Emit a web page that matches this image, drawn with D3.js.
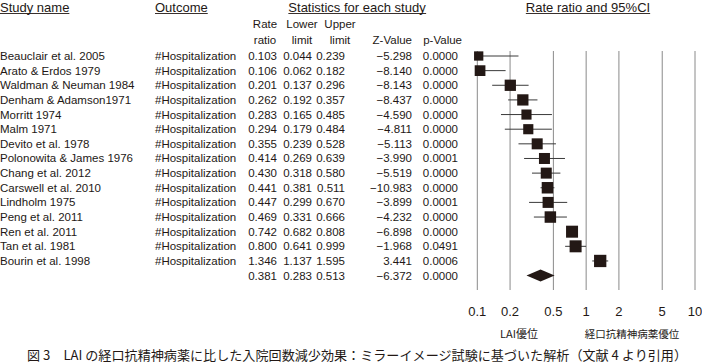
<!DOCTYPE html>
<html>
<head>
<meta charset="utf-8">
<script src="https://cdn.jsdelivr.net/npm/d3@7"></script>
<style>
  html, body { margin: 0; padding: 0; background: #fff; }
  svg { display: block; }
  text { font-family: "Liberation Sans", Arial, sans-serif; fill: #231815; }
  .cap { font-family: "Noto Sans CJK JP", sans-serif; }
</style>
</head>
<body>
<svg id="chart" width="702" height="363"></svg>
<script>
// ── data ───────────────────────────────────────────────
const studies = [
  'Beauclair et al. 2005', 'Arato & Erdos 1979', 'Waldman & Neuman 1984',
  'Denham & Adamson1971', 'Morritt 1974', 'Malm 1971', 'Devito et al. 1978',
  'Polonowita & James 1976', 'Chang et al. 2012', 'Carswell et al. 2010',
  'Lindholm 1975', 'Peng et al. 2011', 'Ren et al. 2011', 'Tan et al. 1981',
  'Bourin et al. 1998'
];
const outcome = '#Hospitalization';
const rateRatio = [0.103, 0.106, 0.201, 0.262, 0.283, 0.294, 0.355, 0.414, 0.430, 0.441, 0.447, 0.469, 0.742, 0.800, 1.346];
const lower     = [0.044, 0.062, 0.137, 0.192, 0.165, 0.179, 0.239, 0.269, 0.318, 0.381, 0.299, 0.331, 0.682, 0.641, 1.137];
const upper     = [0.239, 0.182, 0.296, 0.357, 0.485, 0.484, 0.528, 0.639, 0.580, 0.511, 0.670, 0.666, 0.808, 0.999, 1.595];
const zValue    = ['−5.298', '−8.140', '−8.143', '−8.437', '−4.590', '−4.811', '−5.113', '−3.990', '−5.519', '−10.983', '−3.899', '−4.232', '−6.898', '−1.968', '3.441'];
const pValue    = ['0.0000', '0.0000', '0.0000', '0.0000', '0.0000', '0.0000', '0.0000', '0.0001', '0.0000', '0.0000', '0.0001', '0.0000', '0.0000', '0.0491', '0.0006'];
// relative study weights (box area)
const weights   = [5.7, 7.6, 8.4, 8.4, 6.8, 6.8, 8.0, 8.0, 8.0, 8.7, 8.0, 8.7, 9.5, 9.5, 10.0];
const summary   = { rr: 0.381, lo: 0.283, hi: 0.513, z: '−6.372', p: '0.0000' };
const ticks     = [0.1, 0.2, 0.5, 1, 2, 5, 10];
const caption   = '図 3　LAI の経口抗精神病薬に比した入院回数減少効果：ミラーイメージ試験に基づいた解析（文献 4 より引用）';

// ── layout ─────────────────────────────────────────────
const svg = d3.select('#chart');
const ink = '#231815';
const fmt = d3.format('.3f');

const x = d3.scaleLog().domain([0.1, 10]).range([477.3, 695]);
const y = d3.scaleLinear().domain([0, 1]).range([56, 70.64]);   // row index -> centre
const box = d3.scaleSqrt().domain([0, 10]).range([0, 12.3]);

const FS = 11.5;

// headers
function underlined(txt, xx, yy, anchor) {
  const t = svg.append('text').attr('x', xx).attr('y', yy)
    .attr('text-anchor', anchor).attr('font-size', 13).text(txt);
  const b = t.node().getBBox();
  svg.append('line').attr('x1', b.x).attr('x2', b.x + b.width)
    .attr('y1', yy + 2).attr('y2', yy + 2)
    .attr('stroke', ink).attr('stroke-width', 0.9);
}
underlined('Study name', 0, 11.5, 'start');
underlined('Outcome', 155, 11.5, 'start');
underlined('Statistics for each study', 357, 11.5, 'middle');
underlined('Rate ratio and 95%CI', 588, 11.5, 'middle');

const colHead = [
  { x: 265, l1: 'Rate',  l2: 'ratio' },
  { x: 302, l1: 'Lower', l2: 'limit' },
  { x: 340, l1: 'Upper', l2: 'limit' }
];
colHead.forEach(c => {
  svg.append('text').attr('x', c.x).attr('y', 28).attr('text-anchor', 'middle')
    .attr('font-size', FS).text(c.l1);
  svg.append('text').attr('x', c.x).attr('y', 44).attr('text-anchor', 'middle')
    .attr('font-size', FS).text(c.l2);
});
svg.append('text').attr('x', 412).attr('y', 44).attr('text-anchor', 'end')
  .attr('font-size', FS).text('Z-Value');
svg.append('text').attr('x', 462).attr('y', 44).attr('text-anchor', 'end')
  .attr('font-size', FS).text('p-Value');

// table rows
const rows = studies.map((s, i) => ({
  name: s, rr: rateRatio[i], lo: lower[i], hi: upper[i],
  z: zValue[i], p: pValue[i], w: weights[i], i
}));

const rowG = svg.append('g').attr('font-size', FS);
const cols = [
  { x: 0,   anchor: 'start', f: d => d.name },
  { x: 155, anchor: 'start', f: () => outcome },
  { x: 277, anchor: 'end',   f: d => fmt(d.rr) },
  { x: 312, anchor: 'end',   f: d => fmt(d.lo) },
  { x: 345, anchor: 'end',   f: d => fmt(d.hi) },
  { x: 412, anchor: 'end',   f: d => d.z },
  { x: 458, anchor: 'end',   f: d => d.p }
];
cols.forEach(c => {
  rowG.selectAll(null).data(rows).join('text')
    .attr('x', c.x).attr('y', d => y(d.i) + 4)
    .attr('text-anchor', c.anchor).text(c.f);
});
const sumRow = [fmt(summary.rr), fmt(summary.lo), fmt(summary.hi), summary.z, summary.p];
sumRow.forEach((t, k) => {
  rowG.append('text').attr('x', cols[k + 2].x).attr('y', y(15) + 4)
    .attr('text-anchor', 'end').text(t);
});

// gridlines
svg.append('g').selectAll('line').data(ticks).join('line')
  .attr('x1', d => x(d)).attr('x2', d => x(d))
  .attr('y1', 51).attr('y2', 290)
  .attr('stroke', '#8a8a8a').attr('stroke-width', 1);

// tick labels
svg.append('g').selectAll('text').data(ticks).join('text')
  .attr('x', d => x(d)).attr('y', 316).attr('text-anchor', 'middle')
  .attr('font-size', 13).text(d => d);

// whiskers (clipped to axis range)
const [xmin, xmax] = x.domain();
svg.append('g').selectAll('line').data(rows).join('line')
  .attr('x1', d => x(Math.max(d.lo, xmin))).attr('x2', d => x(Math.min(d.hi, xmax)))
  .attr('y1', d => y(d.i)).attr('y2', d => y(d.i))
  .attr('stroke', '#3a3a3a').attr('stroke-width', 1);

// boxes
svg.append('g').selectAll('rect').data(rows).join('rect')
  .attr('x', d => x(d.rr) - box(d.w) / 2)
  .attr('y', d => y(d.i) - box(d.w) / 2)
  .attr('width', d => box(d.w)).attr('height', d => box(d.w))
  .attr('fill', ink);

// summary diamond
const yc = y(15);
svg.append('path')
  .attr('d', `M${x(summary.lo)},${yc} L${x(summary.rr)},${yc - 6} L${x(summary.hi)},${yc} L${x(summary.rr)},${yc + 6} Z`)
  .attr('fill', ink);

// favour labels
svg.append('text').attr('class', 'cap').attr('x', 519).attr('y', 338)
  .attr('text-anchor', 'middle').attr('font-size', 11).text('LAI優位');
svg.append('text').attr('class', 'cap').attr('x', 632).attr('y', 338)
  .attr('text-anchor', 'middle').attr('font-size', 10.5).text('経口抗精神病薬優位');

// caption
svg.append('text').attr('class', 'cap').attr('x', 27).attr('y', 360)
  .attr('font-size', 13).attr('textLength', 660).attr('lengthAdjust', 'spacingAndGlyphs')
  .text(caption);
</script>
</body>
</html>
